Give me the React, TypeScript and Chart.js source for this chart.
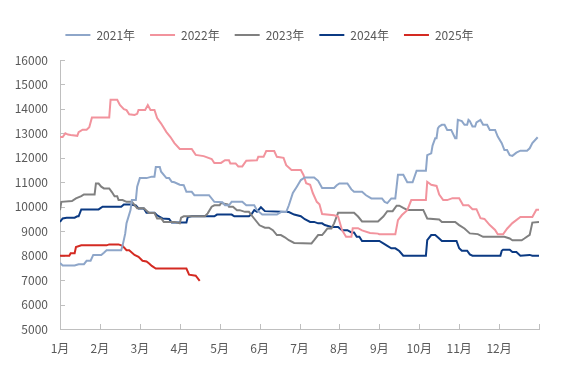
import { useEffect, useRef } from 'react';
import { Chart, registerables } from 'chart.js';

Chart.register(...registerables);

// x = day of the year on a 360-day axis (30 per month), y = price
const monthLabels = ['1月', '2月', '3月', '4月', '5月', '6月', '7月', '8月', '9月', '10月', '11月', '12月'];
const seriesNames = ['2021年', '2022年', '2023年', '2024年', '2025年'];
const seriesColors = ['#8EA6C9', '#F2939D', '#808080', '#0B3A83', '#D42A22'];

const s2021: [number, number][] = [
  [0, 7700], [2, 7600], [11, 7600], [14, 7650], [18, 7650], [20, 7790], [23, 7790], [25, 8030], [31, 8030], [33, 8120],
  [35, 8220], [46, 8220], [47, 8400], [49, 8900], [50, 9330], [53, 9860], [54, 10270], [57, 10270], [58, 10820], [60, 11170],
  [65, 11170], [69, 11230], [71, 11230], [72, 11620], [75, 11620], [76, 11430], [80, 11170], [82, 11170], [84, 11020], [86, 11000],
  [90, 10900], [93, 10880], [95, 10610], [99, 10610], [101, 10470], [112, 10470], [116, 10200], [122, 10180], [124, 10060], [127, 10060],
  [129, 10200], [137, 10200], [140, 10060], [146, 10060], [148, 9860], [152, 9680], [163, 9680], [166, 9780], [170, 9780], [172, 10060],
  [175, 10560], [178, 10820], [181, 11090], [184, 11200], [191, 11200], [194, 11060], [197, 10770], [206, 10770], [208, 10880], [210, 10950],
  [216, 10950], [219, 10710], [221, 10610], [227, 10610], [230, 10470], [234, 10340], [242, 10340], [244, 10200], [246, 10150], [249, 10340],
  [252, 10340], [253, 10820], [254, 11310], [258, 11310], [261, 11000], [265, 11000], [268, 11470], [275, 11470], [276, 12110], [279, 12180],
  [280, 12500], [282, 12800], [283, 12800], [284, 13200], [285, 13280], [287, 13350], [289, 13350], [291, 13140], [294, 13140], [297, 12800],
  [298, 12800], [299, 13550], [302, 13500], [304, 13350], [306, 13350], [307, 13550], [308, 13500], [310, 13280], [312, 13280], [313, 13450],
  [316, 13550], [318, 13350], [321, 13350], [323, 13140], [327, 13140], [329, 12870], [332, 12600], [334, 12320], [336, 12320], [338, 12110],
  [340, 12080], [343, 12210], [346, 12290], [351, 12290], [353, 12390], [355, 12600], [359, 12840],
];

const s2022: [number, number][] = [
  [0, 12850], [2, 12850], [4, 13000], [6, 12950], [8, 12930], [13, 12900], [14, 13050], [17, 13150], [20, 13150], [22, 13250],
  [24, 13650], [37, 13650], [38, 14370], [43, 14370], [45, 14160], [48, 13990], [50, 13950], [52, 13780], [56, 13750], [58, 13800],
  [59, 13960], [64, 13960], [66, 14160], [68, 13960], [71, 13960], [73, 13630], [76, 13400], [80, 13050], [83, 12850], [86, 12600],
  [90, 12360], [99, 12360], [102, 12120], [108, 12070], [114, 11950], [116, 11790], [121, 11790], [124, 11900], [127, 11900], [128, 11770],
  [132, 11770], [134, 11650], [137, 11650], [140, 11880], [148, 11900], [149, 12040], [153, 12040], [155, 12280], [161, 12280], [163, 12040],
  [168, 12000], [170, 11700], [174, 11500], [181, 11500], [183, 11300], [185, 10960], [188, 10900], [190, 10560], [193, 10200], [195, 10100],
  [197, 9700], [206, 9650], [209, 9600], [212, 9040], [215, 8770], [219, 8770], [220, 9120], [224, 9120], [227, 9030], [233, 8930],
  [239, 8900], [240, 8870], [252, 8870], [254, 9450], [257, 9660], [261, 9860], [264, 10270], [275, 10270], [276, 11020], [279, 10900],
  [283, 10850], [285, 10500], [288, 10270], [291, 10270], [295, 10350], [300, 10350], [303, 10060], [307, 10060], [310, 9900], [313, 9900],
  [316, 9530], [319, 9500], [323, 9250], [327, 9050], [329, 8870], [333, 8870], [336, 9100], [340, 9330], [346, 9580], [355, 9580],
  [358, 9880], [360, 9880],
];

const s2023: [number, number][] = [
  [0, 9860], [1, 10200], [9, 10230], [12, 10340], [16, 10430], [18, 10500], [26, 10500], [27, 10950], [29, 10950], [31, 10820],
  [33, 10750], [37, 10750], [39, 10600], [41, 10430], [43, 10430], [44, 10270], [47, 10270], [50, 10200], [54, 10200], [58, 9940],
  [63, 9940], [67, 9740], [71, 9740], [73, 9520], [76, 9520], [78, 9380], [86, 9380], [90, 9320], [91, 9550], [93, 9610],
  [109, 9610], [111, 9730], [114, 10000], [116, 10060], [120, 10060], [121, 10150], [126, 10100], [127, 10000], [130, 10000], [133, 9860],
  [135, 9860], [139, 9790], [142, 9790], [145, 9580], [150, 9240], [154, 9140], [157, 9140], [160, 9040], [163, 8840], [166, 8840],
  [169, 8750], [172, 8630], [176, 8520], [189, 8500], [191, 8630], [194, 8840], [197, 8840], [199, 8970], [201, 9110], [204, 9110],
  [206, 9320], [209, 9750], [221, 9750], [224, 9600], [227, 9400], [239, 9400], [243, 9600], [246, 9820], [250, 9820], [253, 10040],
  [255, 10040], [258, 9950], [261, 9870], [273, 9870], [276, 9520], [285, 9480], [287, 9380], [297, 9380], [300, 9250], [304, 9110],
  [308, 8910], [314, 8880], [318, 8770], [334, 8770], [338, 8700], [340, 8630], [347, 8630], [349, 8700], [353, 8850], [355, 9350],
  [360, 9380],
];

const s2024: [number, number][] = [
  [0, 9380], [2, 9520], [5, 9550], [11, 9550], [13, 9610], [14, 9610], [16, 9890], [29, 9890], [32, 10000], [46, 10000],
  [48, 10090], [53, 10090], [57, 10050], [59, 9930], [63, 9930], [65, 9750], [71, 9750], [73, 9650], [77, 9520], [82, 9500],
  [84, 9350], [95, 9350], [96, 9580], [99, 9610], [116, 9610], [118, 9680], [129, 9680], [131, 9610], [142, 9610], [144, 9700],
  [146, 9860], [148, 9800], [151, 9980], [154, 9820], [172, 9780], [176, 9680], [181, 9610], [184, 9490], [188, 9380], [191, 9380],
  [194, 9320], [197, 9320], [199, 9250], [204, 9170], [209, 9170], [212, 9040], [216, 9040], [219, 8950], [221, 8950], [223, 8770],
  [225, 8770], [227, 8600], [240, 8600], [243, 8500], [246, 8400], [249, 8300], [252, 8300], [255, 8190], [258, 8000], [275, 8000],
  [276, 8630], [279, 8840], [282, 8840], [285, 8700], [287, 8600], [298, 8600], [300, 8300], [302, 8200], [306, 8200], [308, 8050],
  [310, 8000], [331, 8000], [332, 8200], [333, 8240], [338, 8240], [340, 8150], [343, 8150], [346, 8000], [353, 8030], [355, 8000],
  [360, 8000],
];

const s2025: [number, number][] = [
  [0, 8000], [7, 8000], [8, 8100], [11, 8100], [12, 8350], [16, 8420], [35, 8420], [37, 8460], [44, 8460], [47, 8400],
  [50, 8220], [52, 8220], [56, 8030], [59, 7950], [62, 7790], [65, 7760], [67, 7680], [69, 7580], [72, 7470], [95, 7470],
  [97, 7220], [102, 7180], [105, 6970],
];

const allSeries = [s2021, s2022, s2023, s2024, s2025];

const FONT = '"Noto Sans CJK SC", "Noto Sans", sans-serif';
const TEXT = '#595959';
const AXIS = '#BFBFBF';

const innerTicks = {
  id: 'innerTicks',
  beforeDatasetsDraw(chart: any) {
    const { ctx, chartArea, scales } = chart;
    const x = scales.x;
    const y = scales.y;
    ctx.save();
    ctx.strokeStyle = AXIS;
    ctx.lineWidth = 1;
    ctx.beginPath();
    for (const t of x.ticks) {
      const px = Math.round(x.getPixelForValue(t.value)) + 0.5;
      ctx.moveTo(px, chartArea.bottom);
      ctx.lineTo(px, chartArea.bottom - 5);
    }
    for (const t of y.ticks) {
      const py = Math.round(y.getPixelForValue(t.value)) + 0.5;
      ctx.moveTo(chartArea.left, py);
      ctx.lineTo(chartArea.left + 5, py);
    }
    ctx.stroke();
    ctx.restore();
  },
};

export default function App() {
  const ref = useRef<HTMLCanvasElement | null>(null);

  useEffect(() => {
    if (!ref.current) return;
    const chart = new Chart(ref.current, {
      type: 'line',
      data: {
        datasets: allSeries.map((s, i) => ({
          label: seriesNames[i],
          data: s.map(([x, y]) => ({ x, y })),
          borderColor: seriesColors[i],
          backgroundColor: seriesColors[i],
          borderWidth: 2,
          pointRadius: 0,
          tension: 0,
          fill: false,
        })),
      },
      options: {
        responsive: false,
        animation: false,
        events: [],
        layout: { padding: { top: 14, right: 28, left: 0, bottom: 0 } },
        plugins: {
          legend: {
            position: 'top',
            labels: {
              boxWidth: 25,
              boxHeight: 2,
              padding: 15,
              color: TEXT,
              font: { family: FONT, size: 12 },
              generateLabels: (c: any) =>
                Chart.defaults.plugins.legend.labels.generateLabels(c).map((l: any) => ({ ...l, lineWidth: 0 })),
            },
          },
          title: {
            display: true,
            text: '',
            weight: 500,
            padding: { top: 0, bottom: 8 },
            font: { size: 1, lineHeight: 1 },
          } as any,
          tooltip: { enabled: false },
        },
        scales: {
          x: {
            type: 'linear',
            min: 0,
            max: 360,
            grid: { display: false, drawTicks: false },
            border: { display: true, color: AXIS, width: 1 },
            ticks: {
              stepSize: 30,
              autoSkip: false,
              maxRotation: 0,
              includeBounds: true,
              maxTicksLimit: 20,
              padding: 12,
              color: TEXT,
              font: { family: FONT, size: 12 },
              callback: (v: any) => monthLabels[Math.round(Number(v) / 30)] ?? '',
            },
            afterFit: (s: any) => {
              s.height = 49;
            },
          },
          y: {
            min: 5000,
            max: 16000,
            grid: { display: false, drawTicks: false },
            border: { display: true, color: AXIS, width: 1 },
            ticks: {
              stepSize: 1000,
              maxTicksLimit: 20,
              padding: 12,
              color: TEXT,
              font: { family: FONT, size: 12 },
              callback: (v: any) => String(v),
            },
            afterFit: (s: any) => {
              s.width = 60;
            },
          },
        },
      },
      plugins: [innerTicks],
    });
    return () => chart.destroy();
  }, []);

  return (
    <div style={{ position: 'fixed', left: 0, top: 0, width: 567, height: 378, background: '#fff' }}>
      <canvas ref={ref} width={567} height={378} style={{ display: 'block' }} />
    </div>
  );
}
